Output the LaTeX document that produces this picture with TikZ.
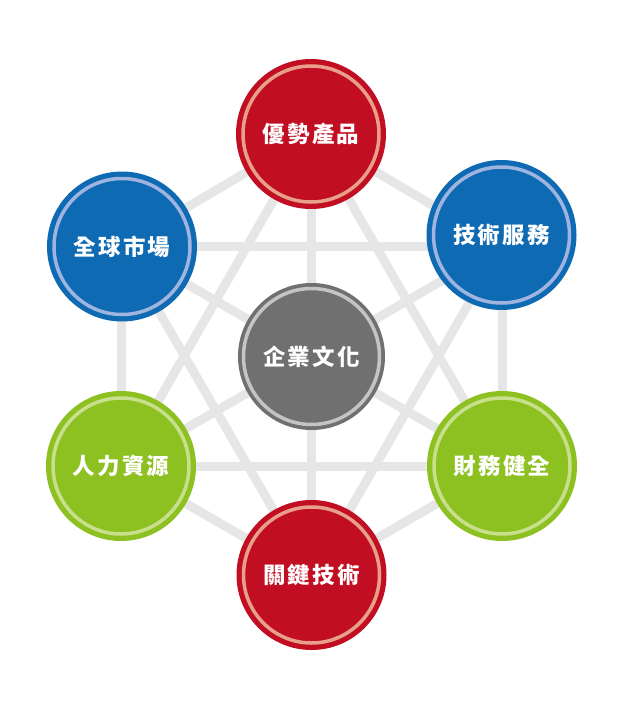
\documentclass[tikz,border=0pt]{standalone}
\usepackage{fontspec}
\newfontfamily\cjk{Noto Sans CJK TC}[LetterSpace=9]
\definecolor{linegray}{HTML}{E6E6E6}
\definecolor{cred}{HTML}{C20E23}
\definecolor{rred}{HTML}{E8A08A}
\definecolor{cblue}{HTML}{0F6AB4}
\definecolor{rblue}{HTML}{A0B4E0}
\definecolor{cgreen}{HTML}{8DC021}
\definecolor{rgreen}{HTML}{C8E08C}
\definecolor{cgray}{HTML}{707070}
\definecolor{rgray}{HTML}{C4C4C4}
\tikzset{
  link/.style={draw=linegray, line width=9pt},
  ball/.style 2 args={circle, minimum size=150pt, inner sep=0pt, fill=#1,
    text=white, font=\cjk\bfseries\fontsize{22.5pt}{26pt}\selectfont,
    path picture={\draw[#2, line width=3.5pt] (path picture bounding box.center) circle (68pt);}},
}
\begin{document}
\begin{tikzpicture}[x=1pt,y=-1pt]
\useasboundingbox (0,0) rectangle (624,709);
% hexagon vertices
\coordinate (vT) at (311.5,134);
\coordinate (vTL) at (121,246);
\coordinate (vTR) at (502,246);
\coordinate (vBL) at (121,466);
\coordinate (vBR) at (502,466);
\coordinate (vB) at (311.5,576);
% all connections
\foreach \a/\b in {vT/vTL, vTL/vBL, vBL/vB, vB/vBR, vBR/vTR, vTR/vT,
                   vT/vBL, vBL/vBR, vBR/vT, vTL/vTR, vTR/vB, vB/vTL,
                   vT/vB, vTL/vBR, vTR/vBL}
  \draw[link] (\a) -- (\b);
% circles
\node[ball={cred}{rred}] (top) at (311,134) {優勢產品};
\node[ball={cblue}{rblue}] (tr) at (501.5,235) {技術服務};
\node[ball={cblue}{rblue}] (tl) at (122,246.5) {全球市場};
\node[ball={cgreen}{rgreen}] (bl) at (121,466) {人力資源};
\node[ball={cgreen}{rgreen}] (br) at (502,466) {財務健全};
\node[ball={cred}{rred}] (bot) at (311.5,575) {關鍵技術};
\node[ball={cgray}{rgray}, minimum size=147pt] (ctr) at (311.5,356.5) {企業文化};
\end{tikzpicture}
\end{document}
